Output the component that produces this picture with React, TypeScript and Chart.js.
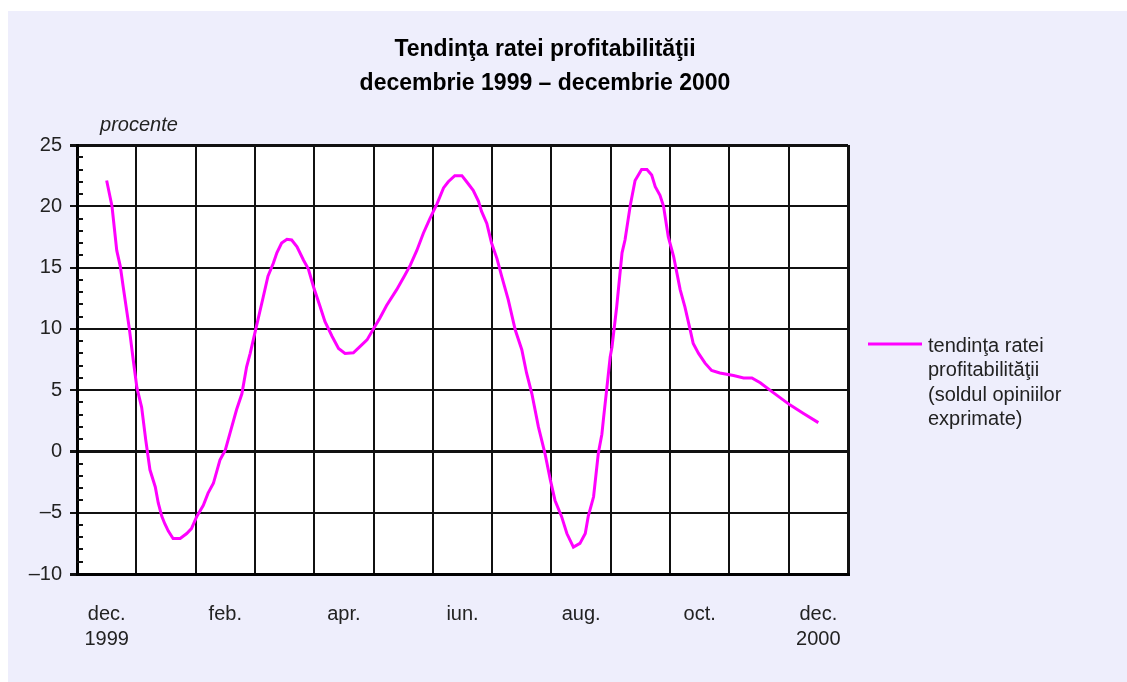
import React, { useEffect, useRef } from "react";
import { Chart, registerables } from "chart.js";

Chart.register(...registerables);

const titleLines = ["Tendinţa ratei profitabilităţii", "decembrie 1999 – decembrie 2000"];
const unitLabel = "procente";
const legendLines = ["tendinţa ratei", "profitabilităţii", "(soldul opiniilor", "exprimate)"];

// month offset from dec. 1999 (0) to dec. 2000 (12)
const monthPos = [
  0.0, 0.09, 0.17, 0.23, 0.28, 0.38, 0.45, 0.51, 0.59, 0.66, 0.73, 0.82, 0.87, 0.93, 0.98, 1.04, 1.12, 1.24,
  1.35, 1.43, 1.52, 1.63, 1.71, 1.8, 1.91, 2.0, 2.08, 2.19, 2.28, 2.36, 2.42, 2.53, 2.64, 2.72, 2.81, 2.87,
  2.95, 3.04, 3.12, 3.21, 3.32, 3.4, 3.49, 3.6, 3.68, 3.8, 3.91, 4.02, 4.16, 4.27, 4.39, 4.5, 4.61, 4.72,
  4.89, 5.03, 5.12, 5.23, 5.34, 5.45, 5.57, 5.68, 5.76, 5.87, 5.99, 6.07, 6.18, 6.27, 6.32, 6.41, 6.49, 6.58,
  6.66, 6.77, 6.89, 7.0, 7.08, 7.17, 7.28, 7.39, 7.48, 7.56, 7.67, 7.76, 7.87, 7.98, 8.07, 8.12, 8.21, 8.29,
  8.35, 8.38, 8.43, 8.49, 8.52, 8.6, 8.69, 8.74, 8.83, 8.91, 9.02, 9.11, 9.19, 9.25, 9.33, 9.39, 9.47, 9.56,
  9.67, 9.75, 9.84, 9.89, 9.98, 10.09, 10.2, 10.34, 10.57, 10.74, 10.88, 11.02, 11.24, 11.52, 11.75, 12.0,
];

const trendValues = [
  22.1, 20.0, 16.4, 15.1, 13.4, 10.1, 7.4, 5.2, 3.6, 0.9, -1.5, -2.9, -4.2, -5.3, -5.9, -6.5, -7.1, -7.1,
  -6.7, -6.3, -5.3, -4.4, -3.4, -2.6, -0.7, 0.1, 1.5, 3.4, 4.7, 6.9, 8.0, 10.3, 12.6, 14.3, 15.35, 16.2,
  17.0, 17.3, 17.25, 16.7, 15.6, 14.9, 13.4, 11.8, 10.6, 9.4, 8.4, 8.0, 8.05, 8.55, 9.1, 10.0, 10.9, 11.9,
  13.2, 14.4, 15.2, 16.4, 17.8, 19.0, 20.2, 21.5, 22.0, 22.5, 22.5, 22.0, 21.3, 20.4, 19.6, 18.6, 17.0, 15.75,
  14.3, 12.4, 9.9, 8.3, 6.4, 4.7, 2.0, -0.15, -2.3, -4.0, -5.3, -6.7, -7.8, -7.5, -6.7, -5.3, -3.7, -0.15,
  1.4, 2.8, 5.0, 7.7, 8.5, 11.8, 16.2, 17.25, 20.1, 22.1, 23.0, 23.0, 22.55, 21.6, 20.9, 20.0, 17.5, 15.9,
  13.2, 11.8, 9.9, 8.8, 8.0, 7.2, 6.6, 6.4, 6.2, 6.0, 6.0, 5.6, 4.8, 3.8, 3.1, 2.35,
];

const xLabelPos = [0, 2, 4, 6, 8, 10, 12];
const xLabels: (string | string[])[] = [["dec.", "1999"], "feb.", "apr.", "iun.", "aug.", "oct.", ["dec.", "2000"]];
const monthBoundaries = [-0.5, 0.5, 1.5, 2.5, 3.5, 4.5, 5.5, 6.5, 7.5, 8.5, 9.5, 10.5, 11.5, 12.5];
const yMin = -10;
const yMax = 25;

const FONT = "'Liberation Sans', Arial, Helvetica, sans-serif";
const LINE_COLOR = "#ff00ff";

export default function App() {
  const ref = useRef<HTMLCanvasElement | null>(null);

  useEffect(() => {
    if (!ref.current) return;

    const decorPlugin = {
      id: "decor",
      beforeDraw(chart: any) {
        const { ctx, chartArea } = chart;
        ctx.save();
        ctx.fillStyle = "#ffffff";
        ctx.fillRect(chartArea.left, chartArea.top, chartArea.right - chartArea.left, chartArea.bottom - chartArea.top);
        ctx.restore();
      },
      afterDraw(chart: any) {
        const { ctx, chartArea } = chart;
        const yScale = chart.scales.y;
        ctx.save();
        // minor ticks inside the left axis
        ctx.strokeStyle = "#111";
        ctx.lineWidth = 2;
        for (let v = yMin; v <= yMax; v++) {
          if (v % 5 === 0) continue;
          const py = Math.round(yScale.getPixelForValue(v));
          ctx.beginPath();
          ctx.moveTo(chartArea.left, py);
          ctx.lineTo(chartArea.left + 6, py);
          ctx.stroke();
        }
        // unit label
        ctx.fillStyle = "#222";
        ctx.font = `italic 20px ${FONT}`;
        ctx.textAlign = "center";
        ctx.textBaseline = "middle";
        ctx.fillText(unitLabel, 131, 114);
        // legend
        ctx.strokeStyle = LINE_COLOR;
        ctx.lineWidth = 3;
        ctx.beginPath();
        ctx.moveTo(860, 333);
        ctx.lineTo(914, 333);
        ctx.stroke();
        ctx.fillStyle = "#222";
        ctx.font = `20px ${FONT}`;
        ctx.textAlign = "left";
        legendLines.forEach((t, i) => ctx.fillText(t, 920, 335 + i * 24.5));
        ctx.restore();
      },
    };

    const chart = new Chart(ref.current, {
      type: "line",
      data: {
        datasets: [
          {
            label: legendLines.join(" "),
            data: monthPos.map((m, i) => ({ x: m, y: trendValues[i] })),
            borderColor: LINE_COLOR,
            borderWidth: 3,
            pointRadius: 0,
            tension: 0,
            fill: false,
          },
        ],
      },
      options: {
        animation: false,
        responsive: false,
        maintainAspectRatio: false,
        layout: { padding: 0 },
        plugins: {
          legend: { display: false },
          tooltip: { enabled: false },
          title: {
            display: true,
            text: titleLines,
            color: "#000",
            font: { family: FONT, size: 23, weight: "bold", lineHeight: 34 / 23 },
            padding: { top: 22, bottom: 44 },
          },
        },
        scales: {
          x: {
            type: "linear",
            min: -0.5,
            max: 12.5,
            position: "bottom",
            afterBuildTicks: (axis: any) => {
              axis.ticks = monthBoundaries.map((v) => ({ value: v }));
            },
            afterFit: (axis: any) => {
              axis.height = 0;
            },
            ticks: { display: false },
            grid: {
              color: "#111",
              lineWidth: (c: any) => (c.index === 0 || c.index === monthBoundaries.length - 1 ? 3 : 2),
              drawTicks: false,
            },
            border: { display: true, color: "#000", width: 3 },
          },
          x2: {
            type: "linear",
            min: -0.5,
            max: 12.5,
            position: "bottom",
            afterBuildTicks: (axis: any) => {
              axis.ticks = xLabelPos.map((v) => ({ value: v }));
            },
            afterFit: (axis: any) => {
              axis.height = 108;
            },
            ticks: {
              autoSkip: false,
              maxRotation: 0,
              padding: 20,
              color: "#222",
              font: { family: FONT, size: 20, lineHeight: 1.25 },
              callback: (v: any) => {
                const i = xLabelPos.indexOf(Number(v));
                return i >= 0 ? xLabels[i] : "";
              },
            },
            grid: { display: false },
            border: { display: false },
          },
          y: {
            type: "linear",
            min: yMin,
            max: yMax,
            afterFit: (axis: any) => {
              axis.width = 69;
            },
            ticks: {
              stepSize: 5,
              padding: 8,
              color: "#222",
              font: { family: FONT, size: 20 },
              callback: (v: any) => (Number(v) < 0 ? "–" + Math.abs(Number(v)) : String(v)),
            },
            grid: {
              color: "#111",
              lineWidth: (c: any) => (c.tick && (c.tick.value === 0 || c.tick.value === yMax || c.tick.value === yMin) ? 3 : 2),
              drawTicks: true,
              tickLength: 7,
            },
            border: { display: true, color: "#000", width: 3 },
          },
          yRight: {
            type: "linear",
            position: "right",
            min: yMin,
            max: yMax,
            afterFit: (axis: any) => {
              axis.width = 234;
            },
            ticks: { display: false },
            grid: { display: false },
            border: { display: false },
          },
        },
      },
      plugins: [decorPlugin],
    } as any);

    return () => chart.destroy();
  }, []);

  return (
    <div
      style={{
        position: "fixed",
        left: 8,
        top: 11,
        width: 1119,
        height: 671,
        background: "#eeeefc",
      }}
    >
      <canvas ref={ref} width={1074} height={671} style={{ display: "block", width: 1074, height: 671 }} />
    </div>
  );
}
